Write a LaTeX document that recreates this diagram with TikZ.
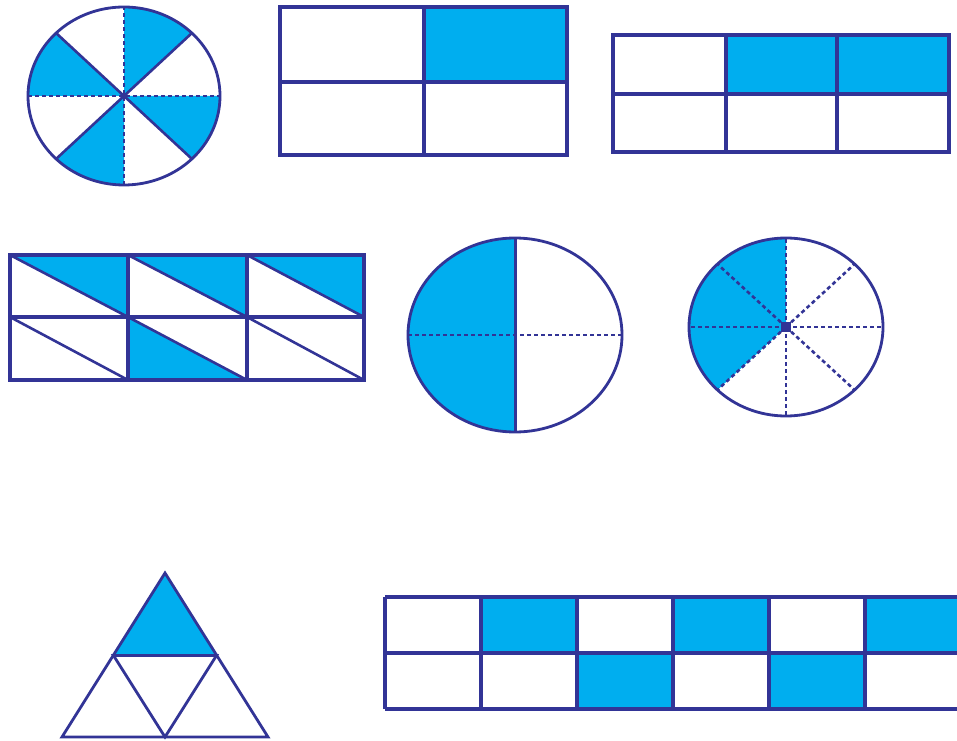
\documentclass[tikz,border=0pt]{standalone}
\definecolor{fracblue}{RGB}{0,174,239}
\definecolor{fracnavy}{RGB}{50,52,150}
\tikzset{
  fracline/.style={draw=fracnavy, line width=3.4pt},
  fracdash/.style={draw=fracnavy, line width=2.6pt, dash pattern=on 4pt off 3pt},
  fracshade/.style={fill=fracblue}
}
\begin{document}
\begin{tikzpicture}[x=1pt, y=1pt]
    \useasboundingbox (0,0) rectangle (957,740);
    % circle cut in eighths, four shaded
    \coordinate (c1) at (124,644);
    \foreach \a in {45,135,225,315}
        \fill[fracshade] (c1) -- ++(\a:96pt and 89pt) arc[start angle=\a, end angle=\a+45, x radius=96pt, y radius=89pt] -- cycle;
    \foreach \a in {45,135,225,315}
        \draw[fracline, line width=2.6pt] (c1) -- ++(\a:96pt and 89pt);
    \draw[fracdash] (c1) ++(-96,0) -- ++(192,0);
    \draw[fracdash] (c1) ++(0,-89) -- ++(0,178);
    \draw[fracline, line width=2.8pt] (c1) ellipse [x radius=96pt, y radius=89pt];
    % 2 x 2 rectangle
    \fill[fracshade] (424,658) rectangle (567,733);
    \draw[fracline] (280,585) rectangle (567,733) (424,585) -- (424,733) (280,658) -- (567,658);
    % 3 x 2 rectangle
    \fill[fracshade] (726,646) rectangle (949,705);
    \draw[fracline] (613,588) rectangle (949,705) (726,588) -- (726,705) (837,588) -- (837,705) (613,646) -- (949,646);
    % rectangle of triangles
    \foreach \xa/\xb in {10/128,128/247,247/364}
        \fill[fracshade] (\xa,485) -- (\xb,485) -- (\xb,423) -- cycle;
    \fill[fracshade] (128,423) -- (128,360) -- (247,360) -- cycle;
    \draw[fracline] (10,360) rectangle (364,485) (128,360) -- (128,485) (247,360) -- (247,485) (10,423) -- (364,423);
    \foreach \xa/\xb in {10/128,128/247,247/364}
        \draw[fracline, line width=2.6pt] (\xa,485) -- (\xb,423) (\xa,423) -- (\xb,360);
    % circle in quarters, half shaded
    \coordinate (c2) at (515,405);
    \fill[fracshade] (c2) -- ++(90:107pt and 97pt) arc[start angle=90, end angle=270, x radius=107pt, y radius=97pt] -- cycle;
    \draw[fracdash] (c2) ++(-107,0) -- ++(214,0);
    \draw[fracline, line width=3pt] (c2) ++(0,-97) -- ++(0,194);
    \draw[fracline, line width=2.8pt] (c2) ellipse [x radius=107pt, y radius=97pt];
    % circle in eighths, three shaded
    \coordinate (c3) at (786,413);
    \fill[fracshade] (c3) -- ++(90:97pt and 89pt) arc[start angle=90, end angle=225, x radius=97pt, y radius=89pt] -- cycle;
    \foreach \a in {0,45,...,315}
        \draw[fracdash] (c3) -- ++(\a:97pt and 89pt);
    \draw[fracline, line width=2pt] (c3) +(-4,-4) rectangle +(4,4);
    \draw[fracline, line width=2.8pt] (c3) ellipse [x radius=97pt, y radius=89pt];
    % triangle in quarters
    \fill[fracshade] (165,167) -- (113.5,84.5) -- (216.5,84.5) -- cycle;
    \draw[fracline, line width=2.8pt] (62,3) -- (268,3) -- (165,167) -- cycle;
    \draw[fracline, line width=2.8pt] (113.5,84.5) -- (216.5,84.5) -- (165,3) -- cycle;
    % long strip of cells
    \foreach \i in {1,3,5}
        \fill[fracshade] (385+96*\i,87) rectangle ++(96,56);
    \foreach \i in {2,4}
        \fill[fracshade] (385+96*\i,31) rectangle ++(96,56);
    \draw[fracline] (385,31) -- (385,143) (385,31) -- (962,31) (385,87) -- (962,87) (385,143) -- (962,143);
    \foreach \i in {1,...,5}
        \draw[fracline] (385+96*\i,31) -- (385+96*\i,143);
\end{tikzpicture}
\end{document}
